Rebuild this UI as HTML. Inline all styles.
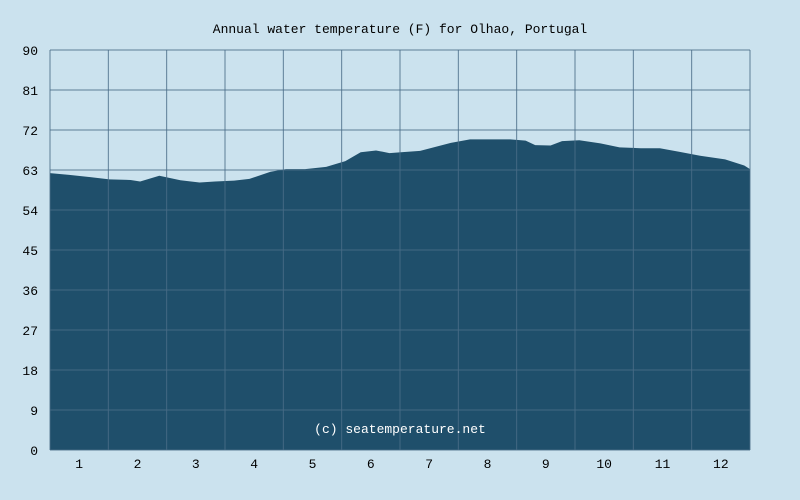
<!DOCTYPE html>
<html><head><meta charset="utf-8"><style>
body{margin:0;background:#cbe2ee;}
svg{display:block;}
text{font-family:"Liberation Mono","DejaVu Sans Mono",monospace;font-size:13px;fill:#000;}
</style></head><body>
<svg id="chart" width="800" height="500">
<rect width="800" height="500" fill="#cbe2ee"/>
<text x="400" y="33" text-anchor="middle">Annual water temperature (F) for Olhao, Portugal</text>
<g id="plot"></g>
</svg>
<script>
const months=["1","2","3","4","5","6","7","8","9","10","11","12"];
const yTicks=[0,9,18,27,36,45,54,63,72,81,90];
const days=[0,10,21,31,42,47,57,68,78,86,96,104,115,123,133,144,154,162,170,177,183,193,201,209,219,229,240,248,253,261,267,276,287,297,308,318,328,339,352,362,365];
const temps=[62.3,61.9,61.4,60.9,60.75,60.4,61.7,60.7,60.2,60.4,60.6,61,62.6,63.2,63.2,63.7,65,67,67.4,66.8,67,67.3,68.2,69.1,69.9,69.9,69.9,69.6,68.6,68.5,69.5,69.7,69,68.1,67.9,67.9,67.1,66.2,65.4,64,63.2];
const L=50,R=750,T=50,B=450;
const xs=d=>L+d/365*(R-L);
const ys=v=>B-v/90*(B-T);
const ns="http://www.w3.org/2000/svg";
const g=document.getElementById('plot');
function mk(t,a){const e=document.createElementNS(ns,t);for(const k in a)e.setAttribute(k,a[k]);g.appendChild(e);return e;}
let d=`M${xs(days[0])},${ys(0)}`;
days.forEach((dd,i)=>{d+=` L${xs(dd)},${ys(temps[i])}`;});
d+=` L${xs(days[days.length-1])},${ys(0)} Z`;
const area=mk('path',{d:d,fill:'#1f4f6b'});


yTicks.forEach(v=>{
 const l=mk('line',{x1:L,x2:R,y1:ys(v),y2:ys(v),stroke:'#4a6d88','stroke-width':1,opacity:0.85});
 
 
 const t=mk('text',{x:38,y:ys(v)+5,'text-anchor':'end'});t.textContent=v;
 
 
});
for(let i=0;i<=12;i++){
 const x=L+i*(R-L)/12;
 const l=mk('line',{x1:x,x2:x,y1:T,y2:B,stroke:'#4a6d88','stroke-width':1,opacity:0.85});
 
 
}
months.forEach((m,i)=>{
 const t=mk('text',{x:L+(i+0.5)*(R-L)/12,y:468,'text-anchor':'middle'});t.textContent=m;
 
 
});
const w=mk('text',{x:400,y:433,'text-anchor':'middle',fill:'#ffffff',style:'fill:#fff'});
w.textContent='(c) seatemperature.net';


</script>
</body></html>
